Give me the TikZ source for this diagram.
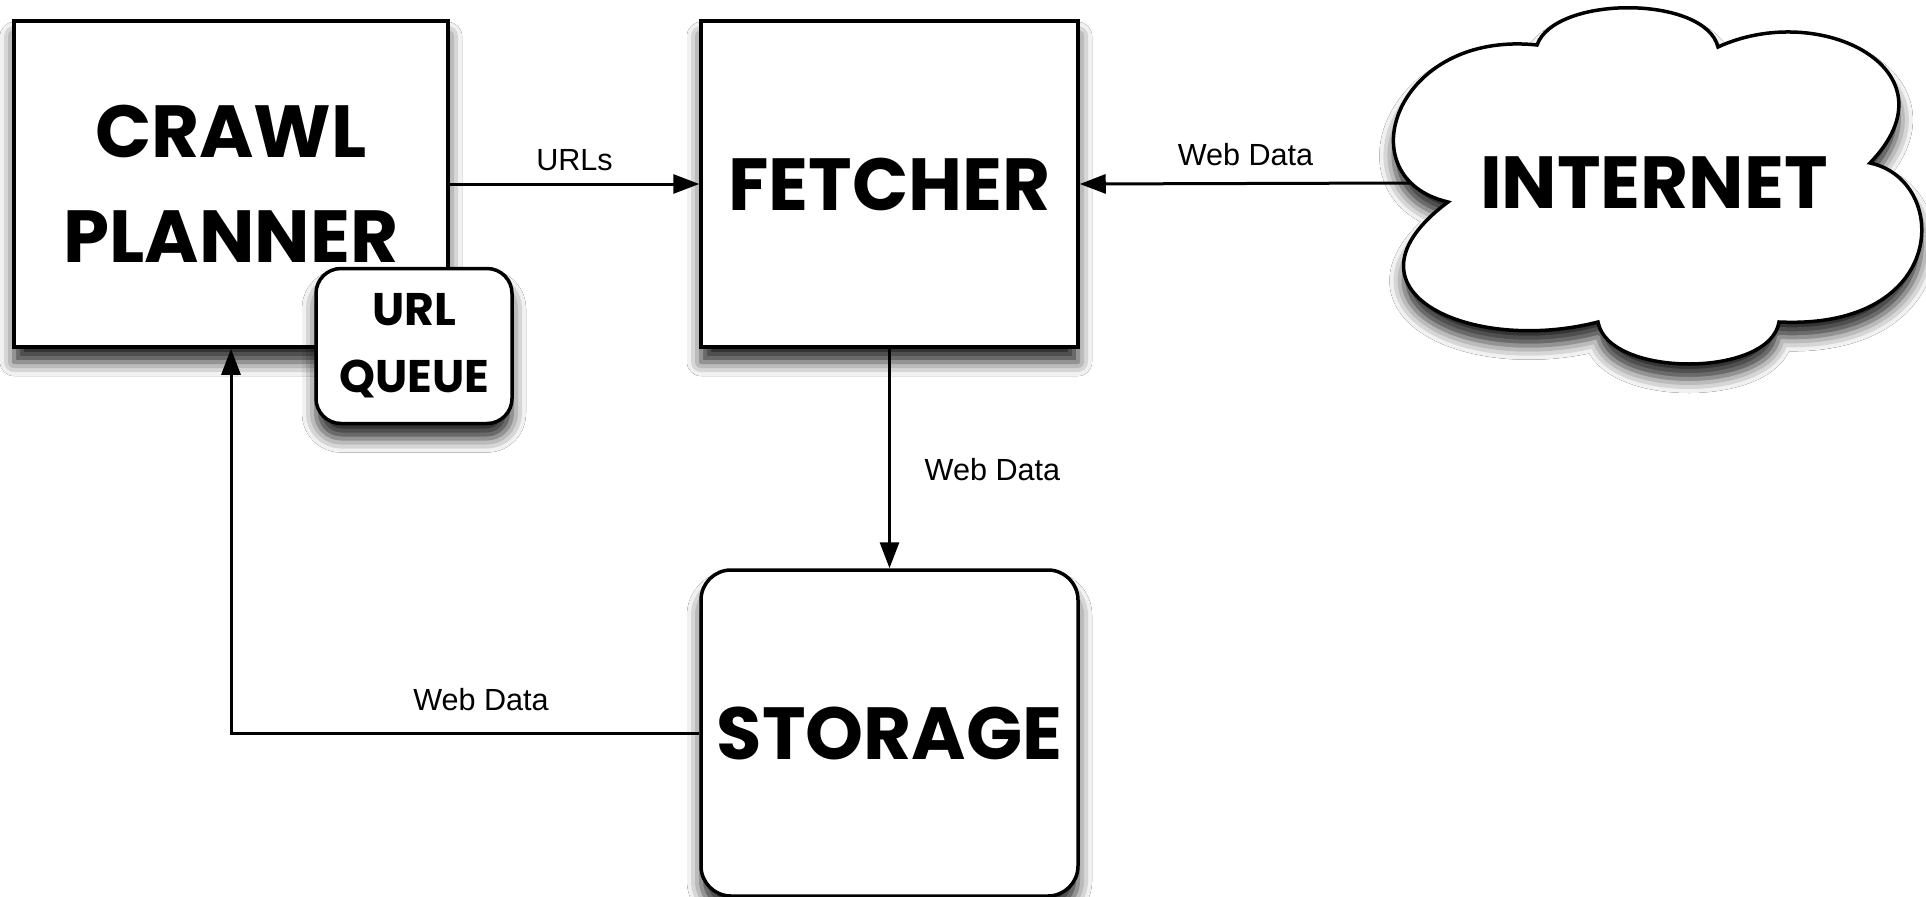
\documentclass[tikz,border=0pt]{standalone}
\usepackage{fontspec}
\setmainfont{Liberation Sans}
\newfontfamily\titlefont{Poppins}
\usetikzlibrary{arrows.meta,shadows.blur}

\tikzset{
  softshadow/.style={blur shadow={shadow xshift=0mm, shadow yshift=-1.5mm,
      shadow blur radius=1.4mm, shadow opacity=85}},
  box/.style={draw, line width=0.35mm, fill=white, minimum width=37.7mm,
      minimum height=32.6mm, inner sep=0pt, align=center, softshadow,
      font=\titlefont\bfseries\fontsize{21}{30}\selectfont},
  flow/.style={line width=0.3mm, draw=black,
      -{Triangle[length=2.6mm,width=1.9mm,fill=black]}},
  tag/.style={font=\fontsize{8.7}{10}\selectfont},
}

\begin{document}
\begin{tikzpicture}[x=0.1mm, y=-0.1mm]
\path[use as bounding box, fill=white] (0,0) rectangle (1926,897);

% main components
\node[box, minimum width=43.4mm] (planner) at (231,184) {CRAWL\\PLANNER};
\node[box, rounded corners=2.5mm, minimum width=19.6mm, minimum height=15.5mm,
      font=\titlefont\bfseries\fontsize{13}{19}\selectfont] (queue) at (414,346) {URL\\QUEUE};
\node[box] (fetcher) at (889.5,184) {FETCHER};
\node[box, rounded corners=3mm] (storage) at (889.5,733) {STORAGE};

% the internet as a cloud
\draw[line width=0.35mm, fill=white, softshadow]
  (1537,45)
  .. controls (1555,-5) and (1705,-5) .. (1718,47)
  .. controls (1820,0) and (1960,70) .. (1870,163)
  .. controls (1950,180) and (1950,330) .. (1779,322)
  .. controls (1770,378) and (1608,378) .. (1598,322)
  .. controls (1470,355) and (1330,290) .. (1448,202)
  .. controls (1345,178) and (1395,30) .. (1537,45)
  -- cycle;
\node[font=\titlefont\bfseries\fontsize{21}{30}\selectfont, minimum width=48.4mm,
      inner sep=0pt] (internet) at (1654,183) {INTERNET};

% data flow
\draw[flow] (planner.east) -- node[tag, above] {URLs} (fetcher.west);
\draw[flow] (internet.west) -- node[tag, above=0.4mm] {Web Data} (fetcher.east);
\draw[flow] (fetcher.south) -- node[tag, pos=0.55, anchor=west, xshift=2.2mm] {Web Data} (storage.north);
\draw[flow] (storage.west) -| node[tag, pos=0.233, above=0.9mm] {Web Data} (planner.south);
\end{tikzpicture}
\end{document}
